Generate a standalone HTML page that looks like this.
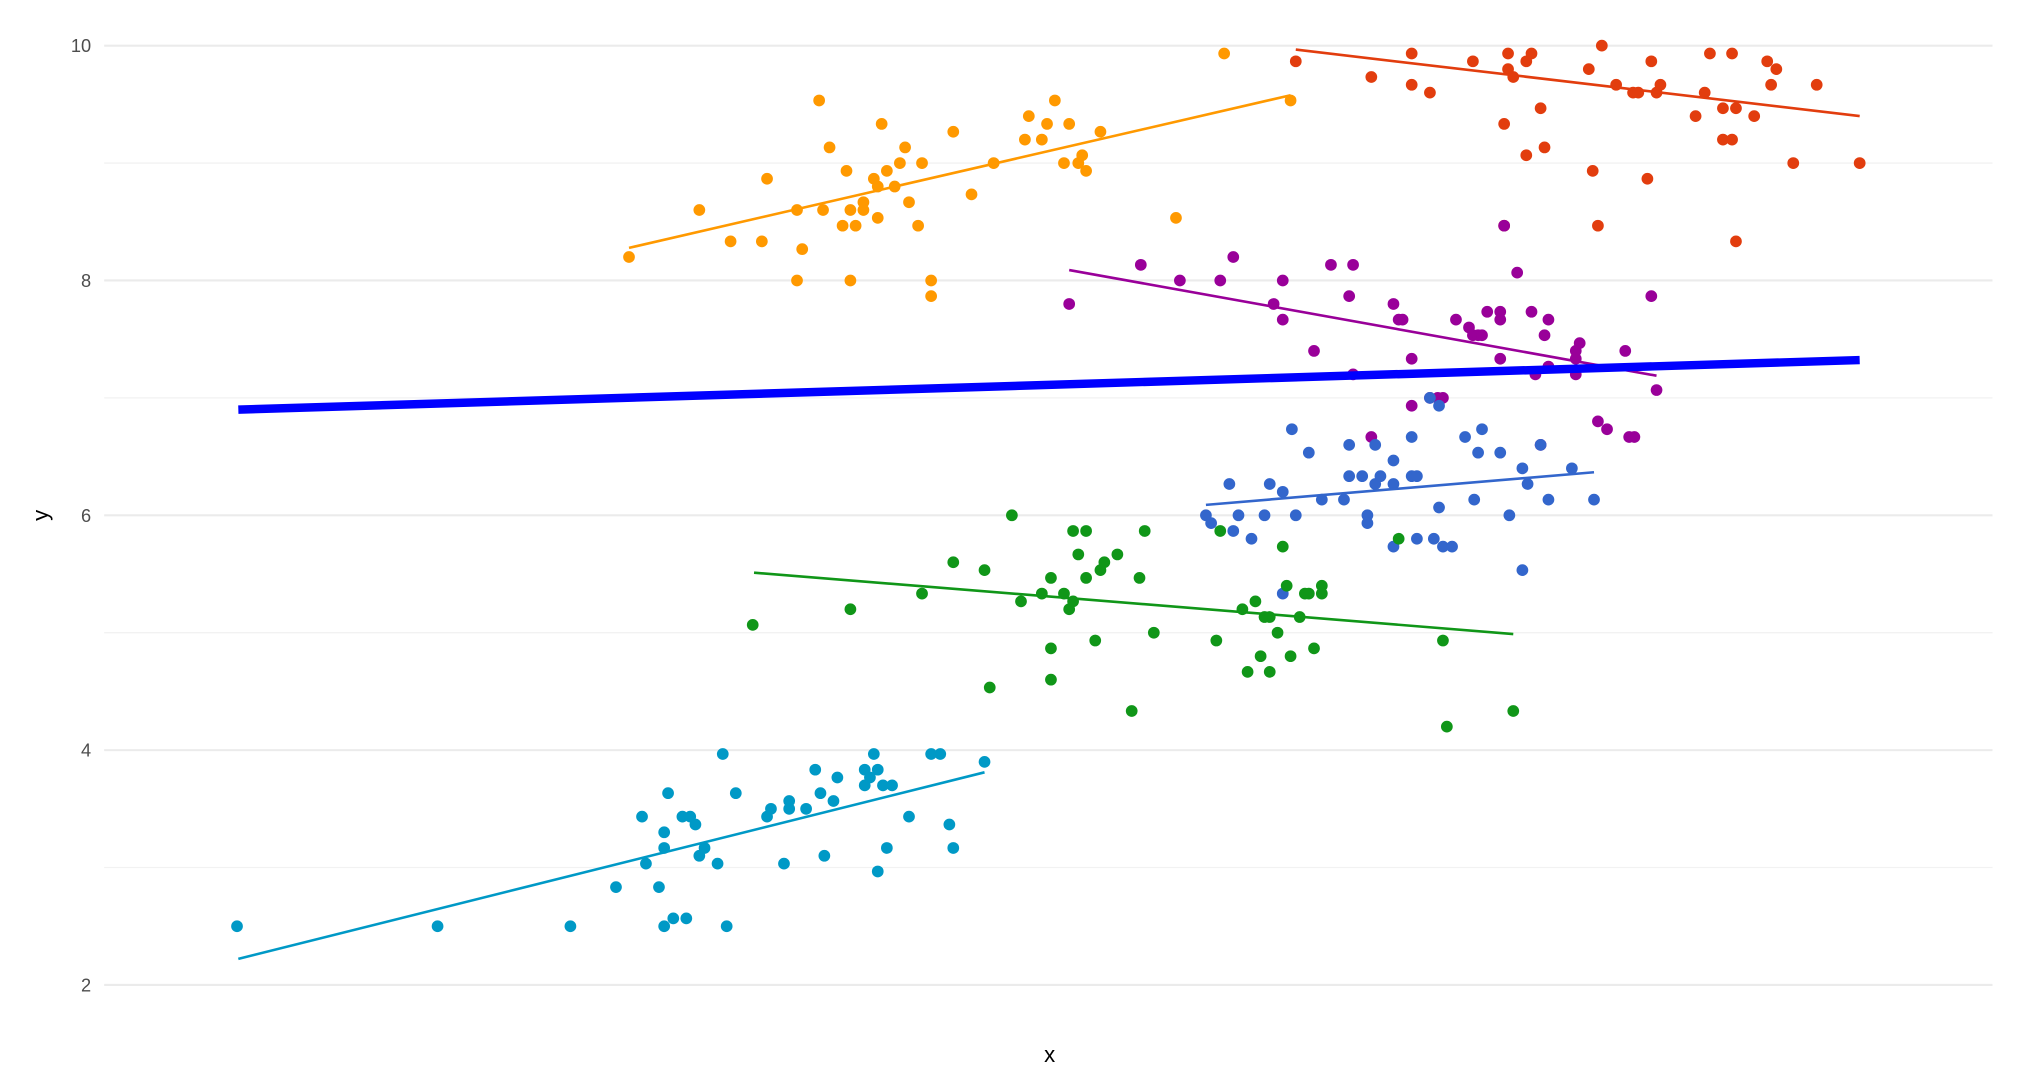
<!DOCTYPE html>
<html><head><meta charset="utf-8"><style>html,body{margin:0;padding:0;background:#fff}svg{display:block}</style></head>
<body>
<svg width="2042" height="1088" viewBox="0 0 1568 834" preserveAspectRatio="none" xmlns="http://www.w3.org/2000/svg" font-family="Liberation Sans, sans-serif">
<g stroke="#ebebeb" stroke-width="1.6">
<line x1="80" x2="1530" y1="35" y2="35"/><line x1="80" x2="1530" y1="215" y2="215"/><line x1="80" x2="1530" y1="395" y2="395"/><line x1="80" x2="1530" y1="575" y2="575"/><line x1="80" x2="1530" y1="755" y2="755"/>
</g>
<g stroke="#f2f2f2" stroke-width="1">
<line x1="80" x2="1530" y1="125" y2="125"/><line x1="80" x2="1530" y1="305" y2="305"/><line x1="80" x2="1530" y1="485" y2="485"/><line x1="80" x2="1530" y1="665" y2="665"/>
</g>
<g font-size="14" fill="#4d4d4d" text-anchor="end">
<text x="70" y="40">10</text><text x="70" y="220">8</text><text x="70" y="400">6</text><text x="70" y="580">4</text><text x="70" y="760">2</text>
</g>
<text x="806" y="814" font-size="17" text-anchor="middle">x</text>
<text x="37" y="395" font-size="17" text-anchor="middle" transform="rotate(-90 37 395)">y</text>
<g fill="#FF9900">
<circle cx="483" cy="197" r="4.5"/><circle cx="537" cy="161" r="4.5"/><circle cx="561" cy="185" r="4.5"/><circle cx="585" cy="185" r="4.5"/><circle cx="589" cy="137" r="4.5"/><circle cx="612" cy="161" r="4.5"/><circle cx="612" cy="215" r="4.5"/><circle cx="616" cy="191" r="4.5"/><circle cx="629" cy="77" r="4.5"/><circle cx="632" cy="161" r="4.5"/><circle cx="637" cy="113" r="4.5"/><circle cx="647" cy="173" r="4.5"/><circle cx="650" cy="131" r="4.5"/><circle cx="653" cy="161" r="4.5"/><circle cx="653" cy="215" r="4.5"/><circle cx="657" cy="173" r="4.5"/><circle cx="663" cy="155" r="4.5"/><circle cx="663" cy="161" r="4.5"/><circle cx="671" cy="137" r="4.5"/><circle cx="674" cy="143" r="4.5"/><circle cx="674" cy="167" r="4.5"/><circle cx="677" cy="95" r="4.5"/><circle cx="681" cy="131" r="4.5"/><circle cx="687" cy="143" r="4.5"/><circle cx="691" cy="125" r="4.5"/><circle cx="695" cy="113" r="4.5"/><circle cx="698" cy="155" r="4.5"/><circle cx="705" cy="173" r="4.5"/><circle cx="708" cy="125" r="4.5"/><circle cx="715" cy="215" r="4.5"/><circle cx="715" cy="227" r="4.5"/><circle cx="732" cy="101" r="4.5"/><circle cx="746" cy="149" r="4.5"/><circle cx="763" cy="125" r="4.5"/><circle cx="787" cy="107" r="4.5"/><circle cx="790" cy="89" r="4.5"/><circle cx="800" cy="107" r="4.5"/><circle cx="804" cy="95" r="4.5"/><circle cx="810" cy="77" r="4.5"/><circle cx="817" cy="125" r="4.5"/><circle cx="821" cy="95" r="4.5"/><circle cx="828" cy="125" r="4.5"/><circle cx="831" cy="119" r="4.5"/><circle cx="834" cy="131" r="4.5"/><circle cx="845" cy="101" r="4.5"/><circle cx="903" cy="167" r="4.5"/><circle cx="940" cy="41" r="4.5"/><circle cx="991" cy="77" r="4.5"/>
</g>
<g fill="#E23D0E">
<circle cx="995" cy="47" r="4.5"/><circle cx="1053" cy="59" r="4.5"/><circle cx="1084" cy="41" r="4.5"/><circle cx="1084" cy="65" r="4.5"/><circle cx="1098" cy="71" r="4.5"/><circle cx="1131" cy="47" r="4.5"/><circle cx="1155" cy="95" r="4.5"/><circle cx="1155" cy="173" r="4.5"/><circle cx="1158" cy="41" r="4.5"/><circle cx="1158" cy="53" r="4.5"/><circle cx="1162" cy="59" r="4.5"/><circle cx="1172" cy="47" r="4.5"/><circle cx="1172" cy="119" r="4.5"/><circle cx="1176" cy="41" r="4.5"/><circle cx="1183" cy="83" r="4.5"/><circle cx="1186" cy="113" r="4.5"/><circle cx="1220" cy="53" r="4.5"/><circle cx="1223" cy="131" r="4.5"/><circle cx="1227" cy="173" r="4.5"/><circle cx="1230" cy="35" r="4.5"/><circle cx="1241" cy="65" r="4.5"/><circle cx="1254" cy="71" r="4.5"/><circle cx="1258" cy="71" r="4.5"/><circle cx="1265" cy="137" r="4.5"/><circle cx="1268" cy="47" r="4.5"/><circle cx="1272" cy="71" r="4.5"/><circle cx="1275" cy="65" r="4.5"/><circle cx="1302" cy="89" r="4.5"/><circle cx="1309" cy="71" r="4.5"/><circle cx="1313" cy="41" r="4.5"/><circle cx="1323" cy="107" r="4.5"/><circle cx="1323" cy="83" r="4.5"/><circle cx="1330" cy="41" r="4.5"/><circle cx="1330" cy="107" r="4.5"/><circle cx="1333" cy="83" r="4.5"/><circle cx="1333" cy="185" r="4.5"/><circle cx="1347" cy="89" r="4.5"/><circle cx="1357" cy="47" r="4.5"/><circle cx="1360" cy="65" r="4.5"/><circle cx="1364" cy="53" r="4.5"/><circle cx="1377" cy="125" r="4.5"/><circle cx="1395" cy="65" r="4.5"/><circle cx="1428" cy="125" r="4.5"/>
</g>
<g fill="#990099">
<circle cx="821" cy="233" r="4.5"/><circle cx="876" cy="203" r="4.5"/><circle cx="906" cy="215" r="4.5"/><circle cx="937" cy="215" r="4.5"/><circle cx="947" cy="197" r="4.5"/><circle cx="978" cy="233" r="4.5"/><circle cx="985" cy="215" r="4.5"/><circle cx="985" cy="245" r="4.5"/><circle cx="1009" cy="269" r="4.5"/><circle cx="1022" cy="203" r="4.5"/><circle cx="1036" cy="227" r="4.5"/><circle cx="1039" cy="203" r="4.5"/><circle cx="1039" cy="287" r="4.5"/><circle cx="1053" cy="335" r="4.5"/><circle cx="1070" cy="233" r="4.5"/><circle cx="1074" cy="245" r="4.5"/><circle cx="1077" cy="245" r="4.5"/><circle cx="1084" cy="275" r="4.5"/><circle cx="1084" cy="311" r="4.5"/><circle cx="1098" cy="305" r="4.5"/><circle cx="1104" cy="305" r="4.5"/><circle cx="1108" cy="305" r="4.5"/><circle cx="1118" cy="245" r="4.5"/><circle cx="1128" cy="251" r="4.5"/><circle cx="1131" cy="257" r="4.5"/><circle cx="1135" cy="257" r="4.5"/><circle cx="1138" cy="257" r="4.5"/><circle cx="1142" cy="239" r="4.5"/><circle cx="1152" cy="239" r="4.5"/><circle cx="1152" cy="245" r="4.5"/><circle cx="1152" cy="275" r="4.5"/><circle cx="1155" cy="173" r="4.5"/><circle cx="1165" cy="209" r="4.5"/><circle cx="1176" cy="239" r="4.5"/><circle cx="1179" cy="287" r="4.5"/><circle cx="1183" cy="341" r="4.5"/><circle cx="1186" cy="257" r="4.5"/><circle cx="1189" cy="245" r="4.5"/><circle cx="1189" cy="281" r="4.5"/><circle cx="1210" cy="269" r="4.5"/><circle cx="1210" cy="275" r="4.5"/><circle cx="1213" cy="263" r="4.5"/><circle cx="1210" cy="287" r="4.5"/><circle cx="1227" cy="323" r="4.5"/><circle cx="1234" cy="329" r="4.5"/><circle cx="1248" cy="269" r="4.5"/><circle cx="1251" cy="335" r="4.5"/><circle cx="1255" cy="335" r="4.5"/><circle cx="1268" cy="227" r="4.5"/><circle cx="1272" cy="299" r="4.5"/>
</g>
<g fill="#3366CC">
<circle cx="926" cy="395" r="4.5"/><circle cx="930" cy="401" r="4.5"/><circle cx="944" cy="371" r="4.5"/><circle cx="947" cy="407" r="4.5"/><circle cx="951" cy="395" r="4.5"/><circle cx="961" cy="413" r="4.5"/><circle cx="971" cy="395" r="4.5"/><circle cx="975" cy="371" r="4.5"/><circle cx="985" cy="377" r="4.5"/><circle cx="985" cy="455" r="4.5"/><circle cx="992" cy="329" r="4.5"/><circle cx="995" cy="395" r="4.5"/><circle cx="1005" cy="347" r="4.5"/><circle cx="1015" cy="383" r="4.5"/><circle cx="1032" cy="383" r="4.5"/><circle cx="1036" cy="341" r="4.5"/><circle cx="1036" cy="365" r="4.5"/><circle cx="1046" cy="365" r="4.5"/><circle cx="1050" cy="395" r="4.5"/><circle cx="1050" cy="401" r="4.5"/><circle cx="1056" cy="341" r="4.5"/><circle cx="1056" cy="371" r="4.5"/><circle cx="1060" cy="365" r="4.5"/><circle cx="1070" cy="353" r="4.5"/><circle cx="1070" cy="371" r="4.5"/><circle cx="1070" cy="419" r="4.5"/><circle cx="1084" cy="335" r="4.5"/><circle cx="1084" cy="365" r="4.5"/><circle cx="1088" cy="413" r="4.5"/><circle cx="1088" cy="365" r="4.5"/><circle cx="1098" cy="305" r="4.5"/><circle cx="1101" cy="413" r="4.5"/><circle cx="1105" cy="311" r="4.5"/><circle cx="1105" cy="389" r="4.5"/><circle cx="1108" cy="419" r="4.5"/><circle cx="1115" cy="419" r="4.5"/><circle cx="1125" cy="335" r="4.5"/><circle cx="1132" cy="383" r="4.5"/><circle cx="1135" cy="347" r="4.5"/><circle cx="1138" cy="329" r="4.5"/><circle cx="1152" cy="347" r="4.5"/><circle cx="1159" cy="395" r="4.5"/><circle cx="1169" cy="359" r="4.5"/><circle cx="1169" cy="437" r="4.5"/><circle cx="1173" cy="371" r="4.5"/><circle cx="1183" cy="341" r="4.5"/><circle cx="1189" cy="383" r="4.5"/><circle cx="1207" cy="359" r="4.5"/><circle cx="1224" cy="383" r="4.5"/>
</g>
<g fill="#109618">
<circle cx="578" cy="479" r="4.5"/><circle cx="653" cy="467" r="4.5"/><circle cx="708" cy="455" r="4.5"/><circle cx="732" cy="431" r="4.5"/><circle cx="756" cy="437" r="4.5"/><circle cx="760" cy="527" r="4.5"/><circle cx="777" cy="395" r="4.5"/><circle cx="784" cy="461" r="4.5"/><circle cx="800" cy="455" r="4.5"/><circle cx="807" cy="443" r="4.5"/><circle cx="807" cy="497" r="4.5"/><circle cx="807" cy="521" r="4.5"/><circle cx="817" cy="455" r="4.5"/><circle cx="821" cy="467" r="4.5"/><circle cx="824" cy="461" r="4.5"/><circle cx="824" cy="407" r="4.5"/><circle cx="828" cy="425" r="4.5"/><circle cx="834" cy="407" r="4.5"/><circle cx="834" cy="443" r="4.5"/><circle cx="841" cy="491" r="4.5"/><circle cx="845" cy="437" r="4.5"/><circle cx="848" cy="431" r="4.5"/><circle cx="858" cy="425" r="4.5"/><circle cx="869" cy="545" r="4.5"/><circle cx="875" cy="443" r="4.5"/><circle cx="879" cy="407" r="4.5"/><circle cx="886" cy="485" r="4.5"/><circle cx="934" cy="491" r="4.5"/><circle cx="937" cy="407" r="4.5"/><circle cx="954" cy="467" r="4.5"/><circle cx="958" cy="515" r="4.5"/><circle cx="964" cy="461" r="4.5"/><circle cx="968" cy="503" r="4.5"/><circle cx="971" cy="473" r="4.5"/><circle cx="975" cy="515" r="4.5"/><circle cx="975" cy="473" r="4.5"/><circle cx="981" cy="485" r="4.5"/><circle cx="985" cy="419" r="4.5"/><circle cx="988" cy="449" r="4.5"/><circle cx="991" cy="503" r="4.5"/><circle cx="998" cy="473" r="4.5"/><circle cx="1002" cy="455" r="4.5"/><circle cx="1005" cy="455" r="4.5"/><circle cx="1009" cy="497" r="4.5"/><circle cx="1015" cy="449" r="4.5"/><circle cx="1015" cy="455" r="4.5"/><circle cx="1074" cy="413" r="4.5"/><circle cx="1108" cy="491" r="4.5"/><circle cx="1111" cy="557" r="4.5"/><circle cx="1162" cy="545" r="4.5"/>
</g>
<g fill="#0099C6">
<circle cx="182" cy="710" r="4.5"/><circle cx="336" cy="710" r="4.5"/><circle cx="438" cy="710" r="4.5"/><circle cx="473" cy="680" r="4.5"/><circle cx="493" cy="626" r="4.5"/><circle cx="496" cy="662" r="4.5"/><circle cx="506" cy="680" r="4.5"/><circle cx="510" cy="638" r="4.5"/><circle cx="510" cy="650" r="4.5"/><circle cx="510" cy="710" r="4.5"/><circle cx="513" cy="608" r="4.5"/><circle cx="517" cy="704" r="4.5"/><circle cx="524" cy="626" r="4.5"/><circle cx="527" cy="704" r="4.5"/><circle cx="530" cy="626" r="4.5"/><circle cx="534" cy="632" r="4.5"/><circle cx="537" cy="656" r="4.5"/><circle cx="541" cy="650" r="4.5"/><circle cx="551" cy="662" r="4.5"/><circle cx="555" cy="578" r="4.5"/><circle cx="558" cy="710" r="4.5"/><circle cx="565" cy="608" r="4.5"/><circle cx="589" cy="626" r="4.5"/><circle cx="592" cy="620" r="4.5"/><circle cx="602" cy="662" r="4.5"/><circle cx="606" cy="614" r="4.5"/><circle cx="606" cy="620" r="4.5"/><circle cx="619" cy="620" r="4.5"/><circle cx="626" cy="590" r="4.5"/><circle cx="630" cy="608" r="4.5"/><circle cx="633" cy="656" r="4.5"/><circle cx="640" cy="614" r="4.5"/><circle cx="643" cy="596" r="4.5"/><circle cx="664" cy="590" r="4.5"/><circle cx="664" cy="602" r="4.5"/><circle cx="668" cy="596" r="4.5"/><circle cx="671" cy="578" r="4.5"/><circle cx="674" cy="590" r="4.5"/><circle cx="674" cy="668" r="4.5"/><circle cx="678" cy="602" r="4.5"/><circle cx="681" cy="650" r="4.5"/><circle cx="685" cy="602" r="4.5"/><circle cx="698" cy="626" r="4.5"/><circle cx="715" cy="578" r="4.5"/><circle cx="722" cy="578" r="4.5"/><circle cx="729" cy="632" r="4.5"/><circle cx="732" cy="650" r="4.5"/><circle cx="756" cy="584" r="4.5"/>
</g>
<g stroke-width="2" fill="none">
<line x1="483" y1="190" x2="991" y2="73" stroke="#FF9900"/>
<line x1="995" y1="38" x2="1428" y2="89" stroke="#E23D0E"/>
<line x1="821" y1="207" x2="1272" y2="288" stroke="#990099"/>
<line x1="926" y1="387" x2="1224" y2="362" stroke="#3366CC"/>
<line x1="579" y1="439" x2="1162" y2="486" stroke="#109618"/>
<line x1="183" y1="735" x2="756" y2="592" stroke="#0099C6"/>
<line x1="183" y1="314" x2="1428" y2="276" stroke="#0000FF" stroke-width="6.5"/>
</g>
</svg>
</body></html>
